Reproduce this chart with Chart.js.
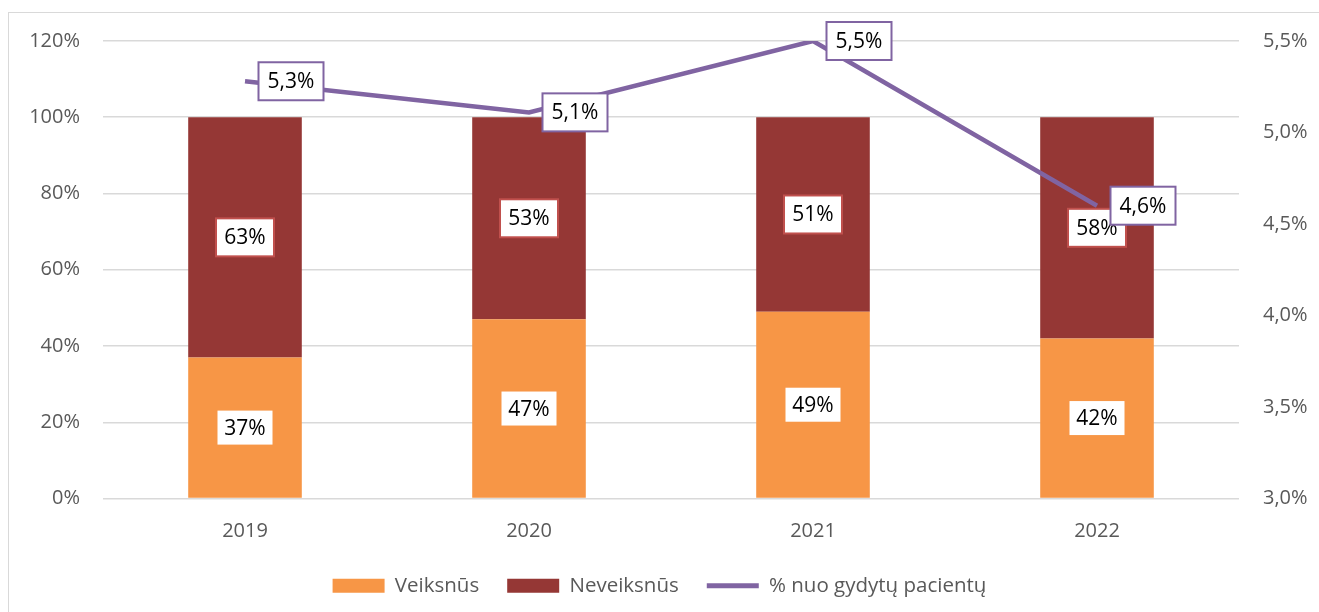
<!DOCTYPE html>
<html>
<head>
<meta charset="utf-8">
<script src="https://cdn.jsdelivr.net/npm/chart.js@4.4.0/dist/chart.umd.min.js"></script>
<style>
  html, body { margin: 0; padding: 0; background: #fff; overflow: hidden; }
  #frame { position: absolute; left: 8px; top: 12px; width: 1400px; height: 700px; border: 1px solid #d9d9d9; }
  #wrap { position: absolute; left: 0; top: 0; width: 1319px; height: 612px; }
</style>
</head>
<body>
<div id="frame"></div>
<div id="wrap"><canvas id="grafico"></canvas></div>
<script>
// dati
var anni = ["2019", "2020", "2021", "2022"];
var veiksnus = [37, 47, 49, 42];
var neveiksnus = [63, 53, 51, 58];
var pacientai = [5.28, 5.11, 5.50, 4.60];
var etiketesPac = ["5,3%", "5,1%", "5,5%", "4,6%"];

var grigio = "#595959";
var font = "'Open Sans', sans-serif";

// etichette con riquadro bianco sopra barre e linea
var etichette = {
  id: 'etichette',
  afterDatasetsDraw: function(chart) {
    var ctx = chart.ctx;
    ctx.save();
    ctx.font = "21px " + font;
    ctx.textAlign = "center";
    ctx.textBaseline = "middle";
    function box(testo, x, y, w, h, bordo) {
      ctx.fillStyle = "#fff";
      ctx.fillRect(x - w / 2, y - h / 2, w, h);
      if (bordo) {
        ctx.strokeStyle = bordo;
        ctx.lineWidth = 2;
        ctx.strokeRect(x - w / 2, y - h / 2, w, h);
      }
      ctx.fillStyle = "#000";
      ctx.fillText(testo, x, y + 1);
    }
    [0, 1].forEach(function(d) {
      var meta = chart.getDatasetMeta(d);
      meta.data.forEach(function(bar, i) {
        var v = chart.data.datasets[d].data[i];
        var cy = (bar.y + bar.base) / 2;
        box(v + "%", bar.x, cy, d == 0 ? 55 : 58, d == 0 ? 34 : 38, d == 0 ? null : "#c0504d");
      });
    });
    var metaL = chart.getDatasetMeta(2);
    metaL.data.forEach(function(p, i) {
      box(etiketesPac[i], p.x + 46, p.y, 65, 38, "#8064a2");
    });
    ctx.restore();
  }
};

var ctx = document.getElementById('grafico').getContext('2d');
new Chart(ctx, {
  type: 'bar',
  data: {
    labels: anni,
    datasets: [{
      label: 'Veiksnūs',
      data: veiksnus,
      backgroundColor: '#f79646',
      yAxisID: 'y',
      order: 1,
      barPercentage: 0.4,
      categoryPercentage: 1
    }, {
      label: 'Neveiksnūs',
      data: neveiksnus,
      backgroundColor: '#953735',
      yAxisID: 'y',
      order: 1,
      barPercentage: 0.4,
      categoryPercentage: 1
    }, {
      type: 'line',
      label: '% nuo gydytų pacientų',
      data: pacientai,
      borderColor: '#8064a2',
      backgroundColor: '#8064a2',
      borderWidth: 4.5,
      pointRadius: 0,
      tension: 0,
      yAxisID: 'y1',
      order: 0
    }]
  },
  options: {
    responsive: true,
    maintainAspectRatio: false,
    animation: false,
    layout: { padding: { left: 0, right: 0, top: 41, bottom: 6 } },
    scales: {
      x: {
        stacked: true,
        grid: { display: false, drawTicks: false },
        border: { display: false },
        ticks: { color: grigio, font: { family: font, size: 20 }, padding: 21 },
        afterFit: function(s) { s.height = 49; }
      },
      y: {
        stacked: true,
        min: 0, max: 120,
        ticks: { stepSize: 20, color: grigio, font: { family: font, size: 20 }, padding: 23,
          callback: function(v) { return v + '%'; } },
        grid: { color: '#d9d9d9', lineWidth: 1.5, drawTicks: false },
        border: { display: false },
        afterFit: function(s) { s.width = 103; }
      },
      y1: {
        position: 'right',
        min: 3, max: 5.5,
        ticks: { stepSize: 0.5, color: grigio, font: { family: font, size: 20 }, padding: 24,
          callback: function(v) { return v.toFixed(1).replace('.', ',') + '%'; } },
        grid: { display: false, drawTicks: false },
        border: { display: false },
        afterFit: function(s) { s.width = 80; }
      }
    },
    plugins: {
      tooltip: { enabled: false },
      legend: {
        position: 'bottom',
        labels: {
          usePointStyle: true,
          pointStyleWidth: 52,
          boxWidth: 52,
          boxHeight: 14,
          padding: 28,
          color: grigio,
          font: { family: font, size: 20.5 },
          generateLabels: function(chart) {
            return chart.data.datasets.map(function(ds, i) {
              var linea = ds.type == 'line';
              return {
                text: ds.label,
                fillStyle: ds.backgroundColor,
                strokeStyle: ds.borderColor || ds.backgroundColor,
                lineWidth: linea ? 5 : 0,
                pointStyle: linea ? 'line' : 'rect',
                fontColor: grigio,
                datasetIndex: i,
                hidden: false
              };
            });
          }
        }
      }
    }
  },
  plugins: [etichette]
});
</script>
</body>
</html>
